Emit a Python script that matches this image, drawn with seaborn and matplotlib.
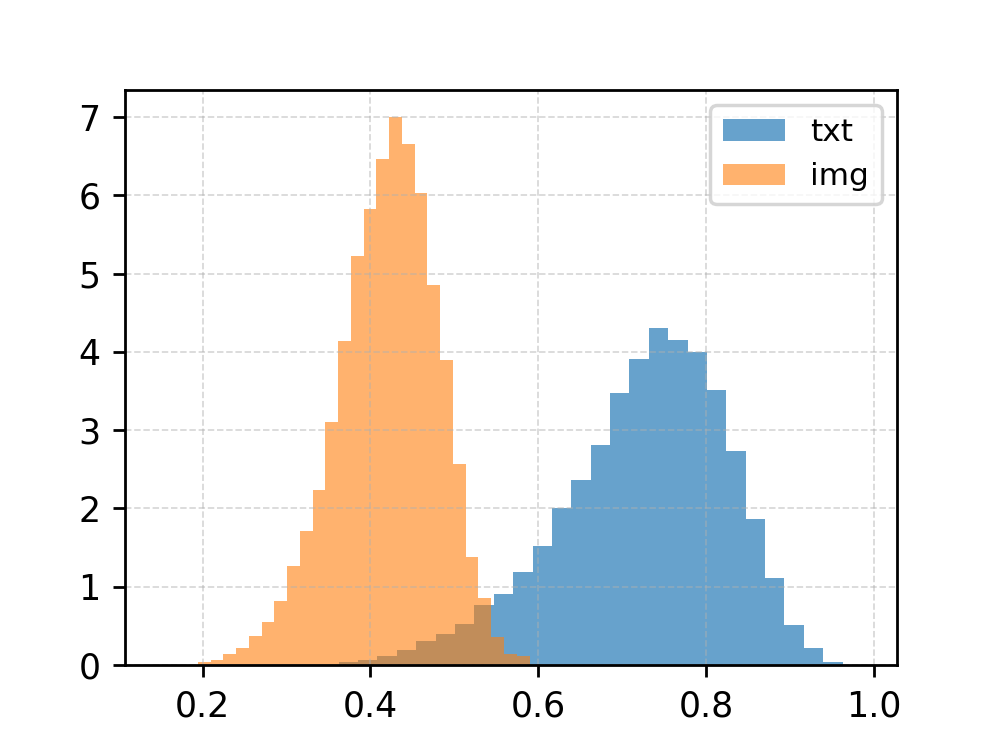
import numpy as np
import pandas as pd
import matplotlib
matplotlib.use("Agg")
import matplotlib.pyplot as plt
import seaborn as sns

# Histogram data (density)
txt_start = 0.3622
txt_width = 0.0231
txt_density = [0.03, 0.065, 0.115, 0.185, 0.305, 0.395, 0.525, 0.76, 0.91, 1.18,
               1.52, 2.00, 2.36, 2.81, 3.47, 3.91, 4.30, 4.15, 4.00, 3.51,
               2.73, 1.86, 1.11, 0.51, 0.22, 0.04]

img_start = 0.1944
img_width = 0.0152
img_density = [0.04, 0.06, 0.14, 0.22, 0.37, 0.55, 0.81, 1.26, 1.71, 2.23,
               3.10, 4.14, 5.22, 5.82, 6.46, 7.00, 6.65, 6.03, 4.86, 3.90,
               2.56, 1.38, 0.86, 0.36, 0.14, 0.11]

labels = ["txt", "img"]
x_ticks = [0.2, 0.4, 0.6, 0.8, 1.0]
y_ticks = [0, 1, 2, 3, 4, 5, 6, 7]

def edges(start, width, n):
    return [float(v) for v in start + width * np.arange(n + 1)]

txt_edges = edges(txt_start, txt_width, len(txt_density))
img_edges = edges(img_start, img_width, len(img_density))
txt_df = pd.DataFrame({"x": [(a + b) / 2 for a, b in zip(txt_edges[:-1], txt_edges[1:])],
                       "w": txt_density})
img_df = pd.DataFrame({"x": [(a + b) / 2 for a, b in zip(img_edges[:-1], img_edges[1:])],
                       "w": img_density})

fig, ax = plt.subplots(figsize=(3.988, 2.988), dpi=250)

sns.histplot(data=txt_df, x="x", weights="w", bins=txt_edges, stat="count",
             color="C0", alpha=0.68, linewidth=0, ax=ax, label=labels[0])
sns.histplot(data=img_df, x="x", weights="w", bins=img_edges, stat="count",
             color="C1", alpha=0.6, linewidth=0, ax=ax, label=labels[1])

ax.set_xlabel("")
ax.set_ylabel("")
ax.set_xlim(0.107, 1.028)
ax.set_xticks(x_ticks)
ax.set_yticks(y_ticks)
ax.grid(True, linestyle="--", alpha=0.5, linewidth=0.5)
ax.legend(loc="upper right", fontsize=9)
for s in ax.spines.values():
    s.set_color("black")

fig.savefig("out.png", dpi=250)
